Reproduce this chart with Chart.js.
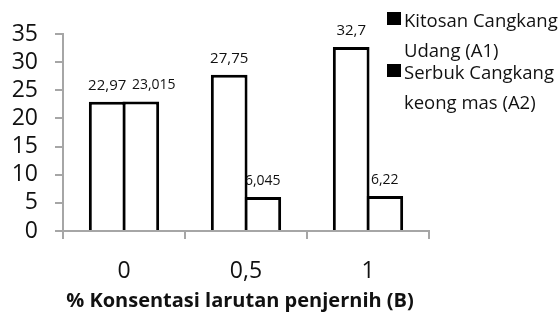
<!DOCTYPE html>
<html>
<head>
<meta charset="utf-8">
<script src="https://cdn.jsdelivr.net/npm/chart.js@4.4.1/dist/chart.umd.min.js"></script>
<style>
html,body{margin:0;padding:0;background:#fff;}
#wrap{width:559px;height:312px;position:relative;}
</style>
</head>
<body>
<div id="wrap"><canvas id="c" width="559" height="312"></canvas></div>
<script>
const categories = ['0', '0,5', '1'];
const seriesNames = [['Kitosan Cangkang', 'Udang (A1)'], ['Serbuk Cangkang', 'keong mas (A2)']];
const seriesA1 = [22.97, 27.75, 32.7];
const seriesA2 = [23.015, 6.045, 6.22];
const labelsA1 = ['22,97', '27,75', '32,7'];
const labelsA2 = ['23,015', '6,045', '6,22'];
const yTicks = [0, 5, 10, 15, 20, 25, 30, 35];
const xTitle = '% Konsentasi larutan penjernih (B)';

const FONT = '"Open Sans", sans-serif';
const TXT = '#111';
const AX = '#a6a6a6';

// per-label style tweaks (dataset-index) -> font size / x shift
const labelStyle = { '1-0': { size: 14, dx: 13 }, '1-1': { size: 14, dx: 0 }, '1-2': { size: 14, dx: 0 } };

const valueLabels = {
  id: 'valueLabels',
  beforeDatasetsDraw(chart) {
    const ctx = chart.ctx;
    const texts = [labelsA1, labelsA2];
    ctx.save();
    ctx.fillStyle = TXT;
    ctx.textAlign = 'center';
    ctx.textBaseline = 'middle';
    chart.data.datasets.forEach((ds, di) => {
      chart.getDatasetMeta(di).data.forEach((bar, i) => {
        const st = labelStyle[di + '-' + i] || { size: 15, dx: 0 };
        ctx.font = st.size + 'px ' + FONT;
        ctx.fillText(texts[di][i], bar.x + st.dx, bar.y - 16);
      });
    });
    ctx.restore();
  }
};

const sideLegend = {
  id: 'sideLegend',
  afterDraw(chart) {
    const ctx = chart.ctx;
    ctx.save();
    ctx.font = '18.5px ' + FONT;
    ctx.textBaseline = 'middle';
    ctx.textAlign = 'left';
    const starts = [22, 74];
    seriesNames.forEach((lines, i) => {
      const y0 = starts[i];
      ctx.fillStyle = '#000';
      ctx.fillRect(387, y0 - 10, 14, 13);
      ctx.fillStyle = TXT;
      lines.forEach((t, j) => ctx.fillText(t, 404, y0 + j * 30));
    });
    // x-axis title
    ctx.font = 'bold 20px ' + FONT;
    ctx.textAlign = 'center';
    ctx.fillText(xTitle, 240, 301);
    ctx.restore();
  }
};

new Chart(document.getElementById('c'), {
  type: 'bar',
  data: {
    labels: categories,
    datasets: [
      { label: seriesNames[0].join(' '), data: seriesA1, backgroundColor: '#fff', borderColor: '#000', borderWidth: 3 },
      { label: seriesNames[1].join(' '), data: seriesA2, backgroundColor: '#fff', borderColor: '#000', borderWidth: 3 }
    ]
  },
  options: {
    responsive: false,
    animation: false,
    devicePixelRatio: 1,
    layout: { padding: { left: 0, right: 130, top: 34, bottom: 0 } },
    datasets: { bar: { categoryPercentage: 0.551, barPercentage: 1.092 } },
    plugins: { legend: { display: false }, tooltip: { enabled: false } },
    scales: {
      x: {
        offset: true,
        grid: { offset: true, drawOnChartArea: false, drawTicks: true, tickLength: 8, color: AX, lineWidth: 2 },
        border: { color: AX, width: 2 },
        ticks: { color: TXT, font: { family: FONT, size: 23 }, padding: 19, maxRotation: 0 },
        title: { display: false },
        afterFit(s) { s.height = 81; }
      },
      y: {
        min: 0, max: 35,
        afterBuildTicks(s) { s.ticks = yTicks.map(v => ({ value: v })); },
        grid: { drawOnChartArea: false, drawTicks: true, tickLength: 8, color: AX, lineWidth: 2 },
        border: { color: AX, width: 2 },
        ticks: { color: TXT, font: { family: FONT, size: 23 }, padding: 17, autoSkip: false },
        afterFit(s) { s.width = 63; }
      }
    }
  },
  plugins: [valueLabels, sideLegend]
});
</script>
</body>
</html>
